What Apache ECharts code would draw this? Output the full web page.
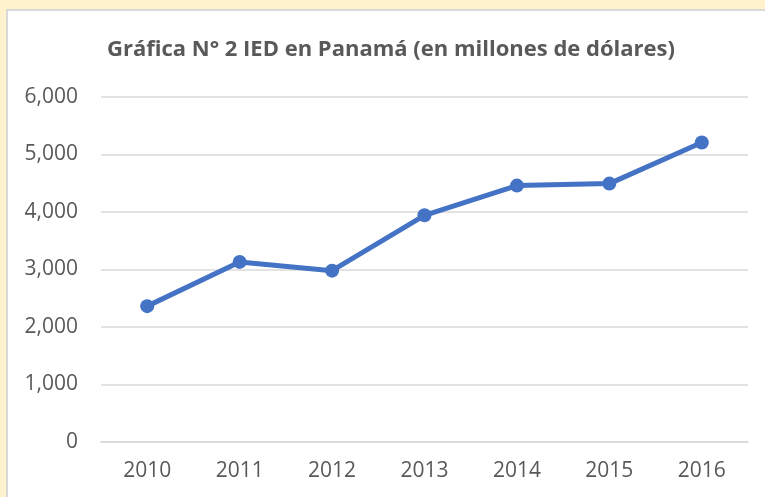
<!DOCTYPE html>
<html>
<head>
<meta charset="utf-8">
<script src="https://cdn.jsdelivr.net/npm/echarts@6/dist/echarts.min.js"></script>
<style>
  html, body { margin: 0; padding: 0; background: #fff2cc; }
  #chart { width: 765px; height: 497px; }
</style>
</head>
<body>
<div id="chart"></div>
<script>
// IED en Panamá, millones de dólares
const YEARS  = ["2010", "2011", "2012", "2013", "2014", "2015", "2016"];
const VALUES = [2363, 3132, 2980, 3943, 4459, 4494, 5209];
const TITLE  = "Gráfica N° 2 IED en Panamá (en millones de dólares)";

const FONT = "'Open Sans', 'Noto Sans', sans-serif";
const TXT  = "#595959";
const GRID = "#d9d9d9";
const BLUE = "#4472c4";

const chart = echarts.init(document.getElementById("chart"));

chart.setOption({
  backgroundColor: "#fff2cc",
  animation: false,
  graphic: [{
    type: "rect", z: -10, silent: true,
    shape: { x: 7, y: 10, width: 770, height: 500 },
    style: { fill: "#ffffff", stroke: GRID, lineWidth: 2 },
  }],
  title: {
    text: TITLE, left: 102, top: 34,
    textStyle: { color: TXT, fontFamily: FONT, fontSize: 22, fontWeight: "bold" },
  },
  grid: { left: 101, right: 17, top: 97, bottom: 55 },
  xAxis: {
    type: "category", data: YEARS, boundaryGap: true,
    axisLine: { lineStyle: { color: GRID, width: 1.5 } },
    axisTick: { show: false },
    axisLabel: { color: TXT, fontFamily: FONT, fontSize: 21, margin: 19 },
  },
  yAxis: {
    type: "value", min: 0, max: 6000, interval: 1000,
    axisLine: { show: false }, axisTick: { show: false },
    axisLabel: {
      color: TXT, fontFamily: FONT, fontSize: 21, margin: 23,
      formatter: v => v.toLocaleString("en-US"),
    },
    splitLine: { lineStyle: { color: GRID, width: 1.5 } },
  },
  series: [{
    type: "line", data: VALUES,
    symbol: "circle", symbolSize: 14,
    itemStyle: { color: BLUE },
    lineStyle: { color: BLUE, width: 5 },
  }],
});
</script>
</body>
</html>
